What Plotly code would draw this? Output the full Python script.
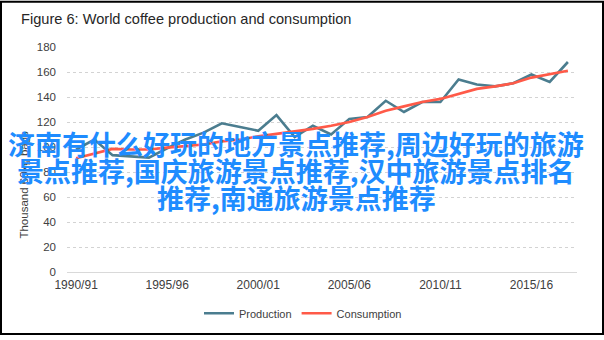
import plotly.graph_objects as go

years = [f"{y}/{str(y+1)[-2:]}" for y in range(1990, 2018)]
production = [98, 106, 93.5, 92.5, 91.5, 99, 106, 111.5, 119, 116, 113, 125.5, 108, 117,
              110, 122.5, 124, 137, 128, 136, 136, 154, 150, 148.5, 151, 158, 152, 168]
consumption = [91, 94.5, 98.5, 98, 98, 99.5, 101, 102, 104.5, 106, 108.5, 110.5, 112, 114.5,
               117, 120, 124, 129, 132.5, 136, 138.5, 142.5, 146.5, 148.5, 151, 155.5, 158, 161]
tick_labels = ["1990/91", "1995/96", "2000/01", "2005/06", "2010/11", "2015/16"]
y_ticks = [0, 20, 40, 60, 80, 100, 120, 140, 160, 180]
title = "Figure 6: World coffee production and consumption"
y_title = "Thousand 60kg bags"
overlay_lines = ["济南有什么好玩的地方景点推荐,周边好玩的旅游",
                 "景点推荐,国庆旅游景点推荐,汉中旅游景点排名",
                 "推荐,南通旅游景点推荐"]

W, H = 604, 340
L, R, T, B = 67, 27, 47, 64
pw, ph = W - L - R, H - T - B

def px(x):
    return (x - L) / pw

def py(y):
    return (H - B - y) / ph

fig = go.Figure()
fig.add_trace(go.Scatter(x=years, y=production, mode="lines", name="Production",
                         line=dict(color="#4b7d8f", width=2.6)))
fig.add_trace(go.Scatter(x=years, y=consumption, mode="lines", name="Consumption",
                         line=dict(color="#ff5a48", width=2.6)))

fig.update_layout(
    width=W, height=H,
    margin=dict(l=L, r=R, t=T, b=B),
    paper_bgcolor="white", plot_bgcolor="white",
    font=dict(family="Liberation Sans, Arial, sans-serif", color="#595959", size=11),
    showlegend=True,
    legend=dict(orientation="h", x=px(303), xanchor="center", y=py(318), yanchor="middle",
                font=dict(size=11, color="#404040"), itemwidth=30, tracegroupgap=0),
    xaxis=dict(type="category", tickmode="array", tickvals=tick_labels, ticktext=tick_labels,
               showgrid=False, showline=False, ticks="", tickfont=dict(size=12, color="#404040"),
               range=[-0.5, len(years) - 0.5], ticklabelstandoff=4, fixedrange=True),
    yaxis=dict(range=[0, 180], tickvals=y_ticks, showgrid=True, gridcolor="#d3d3d3",
               griddash="dot", gridwidth=1, zeroline=True, zerolinecolor="#d9d9d9",
               zerolinewidth=1, showline=False, ticks="", tickfont=dict(size=11.5, color="#404040"),
               ticklabelstandoff=10),
)

anns = [
    dict(text=title, x=px(19), y=py(19), xref="paper", yref="paper", xanchor="left",
         yanchor="middle", showarrow=False, font=dict(size=14.6, color="#262626",
                                                       family="Liberation Sans, Arial, sans-serif")),
    dict(text=y_title, x=px(24), y=py(187), xref="paper", yref="paper", textangle=-90,
         xanchor="center", yanchor="middle", showarrow=False,
         font=dict(size=11.5, color="#404040")),
]
for i, (line, cy) in enumerate(zip(overlay_lines, [145, 172.5, 200])):
    anns.append(dict(text=line, x=px(296), y=py(cy), xref="paper", yref="paper",
                     xanchor="center", yanchor="middle", showarrow=False,
                     font=dict(size=27, color="#1e8cff", family="Noto Sans CJK SC", weight="bold")))
fig.update_layout(annotations=anns)

fig.add_shape(type="rect", xref="paper", yref="paper",
              x0=px(1), x1=px(W - 1), y0=py(H - 1), y1=py(1),
              line=dict(color="black", width=2), fillcolor="rgba(0,0,0,0)", layer="above")

fig.write_html("out.html")
